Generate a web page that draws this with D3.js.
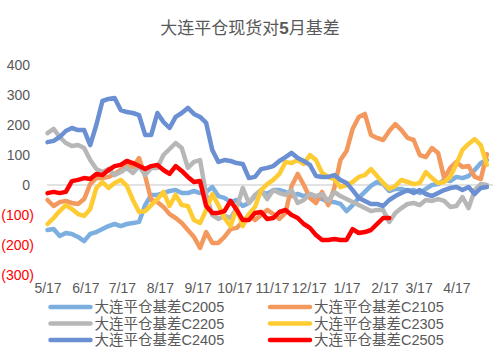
<!DOCTYPE html>
<html><head><meta charset="utf-8">
<script src="https://cdn.jsdelivr.net/npm/d3@7"></script>
<style>
html,body{margin:0;padding:0;background:#fff;}
svg{display:block;font-family:"Liberation Sans","Noto Sans CJK SC",sans-serif;}
</style></head>
<body>
<svg id="c" width="502" height="354"></svg>
<script>
const dates = ["2021-05-17","2021-05-22","2021-05-27","2021-06-01","2021-06-06","2021-06-11","2021-06-16","2021-06-21","2021-06-26","2021-07-01","2021-07-06","2021-07-11","2021-07-16","2021-07-21","2021-07-26","2021-07-31","2021-08-05","2021-08-10","2021-08-15","2021-08-20","2021-08-25","2021-08-30","2021-09-04","2021-09-09","2021-09-14","2021-09-19","2021-09-24","2021-09-29","2021-10-04","2021-10-09","2021-10-14","2021-10-19","2021-10-24","2021-10-29","2021-11-03","2021-11-08","2021-11-13","2021-11-18","2021-11-23","2021-11-28","2021-12-03","2021-12-08","2021-12-13","2021-12-18","2021-12-23","2021-12-28","2022-01-02","2022-01-07","2022-01-12","2022-01-17","2022-01-22","2022-01-27","2022-02-01","2022-02-06","2022-02-11","2022-02-16","2022-02-21","2022-02-26","2022-03-03","2022-03-08","2022-03-13","2022-03-18","2022-03-23","2022-03-28","2022-04-02","2022-04-07","2022-04-12","2022-04-17","2022-04-22","2022-04-27","2022-05-02","2022-05-07","2022-05-12"];

const c2005 = [-150,-147,-170,-160,-163,-173,-187,-163,-157,-147,-137,-130,-137,-130,-127,-123,-67,-33,-33,-27,-20,-17,-27,-27,-20,-27,-23,-7,-37,-43,-57,-50,-70,-60,-37,-23,-30,-17,-17,-23,-37,-30,-37,-30,-40,-47,-57,-57,-63,-87,-67,-43,-23,-3,10,3,-20,-13,-13,-20,-17,-27,-13,0,3,17,13,27,23,30,50,73,83];
const c2105 = [-50,-70,-57,-53,-60,-63,-47,3,23,23,27,37,50,67,60,90,30,-50,-57,-73,-97,-110,-127,-150,-173,-210,-157,-193,-193,-173,-147,-143,-123,-100,-117,-100,-83,-97,-113,-93,-3,37,0,-43,-60,-23,-67,-10,83,113,187,227,237,167,157,150,180,203,183,157,150,100,93,123,107,23,57,77,60,63,27,20,103];
const c2205 = [173,187,160,140,130,133,123,83,53,43,53,33,43,57,40,63,33,57,57,100,120,140,123,57,77,83,-33,-100,-113,-103,-110,-77,-10,-60,-33,-17,-47,-17,-27,-33,-17,-60,-50,-30,-37,-30,-53,-23,-37,-47,-57,-67,-77,-87,-83,-83,-123,-93,-77,-63,-60,-67,-50,-53,-47,-53,-73,-70,-40,-77,-17,3,0];
const c2305 = [-130,-110,-87,-67,-80,-97,-103,-80,-10,10,-10,7,17,-3,-50,-90,-87,-67,-47,-23,-70,-33,-67,-70,-117,-127,-83,-30,-67,-110,-137,-77,-137,-97,-73,-17,3,17,37,77,73,83,70,100,83,40,27,20,-7,0,10,27,33,53,30,7,-13,-3,17,10,3,7,43,23,7,10,27,70,117,137,153,133,67];
const c2405 = [143,147,160,180,190,183,183,133,200,280,287,290,250,243,240,233,167,167,240,210,190,227,240,257,237,227,207,117,77,83,80,73,70,23,27,53,57,63,80,93,107,90,80,67,30,27,27,33,17,7,-17,-43,-53,-63,-63,-70,-50,-37,-27,-17,-27,-17,-30,-37,-27,-17,-10,-7,-17,-7,-30,-10,-7];
const c2505 = [-27,-23,-27,-23,13,17,23,20,37,33,50,63,67,80,73,63,53,63,67,50,37,63,47,27,10,13,-70,-93,-93,-87,-53,-83,-117,-117,-93,-90,-113,-110,-90,-83,-100,-110,-130,-143,-167,-183,-183,-180,-183,-183,-147,-160,-157,-150,-130,-110,-110,null,null,null,null,null,null,null,null,null,null,null,null,null,null,null,null];

const seriesNames = ["大连平仓基差C2005","大连平仓基差C2105","大连平仓基差C2205","大连平仓基差C2305","大连平仓基差C2405","大连平仓基差C2505"];
const seriesValues = [c2005, c2105, c2205, c2305, c2405, c2505];
const colors = ["#7DAEE0","#F3995E","#B7B7B7","#FFCB33","#6A8FD3","#FF0000"];
const yTicks = [400,300,200,100,0,-100,-200,-300];
const xTicks = ["2021-05-17","2021-06-17","2021-07-17","2021-08-17","2021-09-17","2021-10-17","2021-11-17","2021-12-17","2022-01-17","2022-02-17","2022-03-17","2022-04-17"];

const parse = d3.utcParse("%Y-%m-%d");
const svg = d3.select("#c");

const x = d3.scaleUtc().domain([parse("2021-05-17"), parse("2022-05-17")]).range([47.5, 493]);
const y = d3.scaleLinear().domain([-300, 400]).range([275, 65]);

// title
const t = svg.append("text").attr("x", 250).attr("y", 34).attr("text-anchor", "middle")
  .attr("font-size", 17).attr("fill", "#595959");
t.append("tspan").text("大连平仓现货对");
t.append("tspan").attr("font-weight", "bold").text("5");
t.append("tspan").text("月基差");

// y axis
const yAxis = svg.append("g").attr("transform", "translate(34,0)")
  .call(d3.axisLeft(y).tickValues(yTicks).tickSize(0).tickPadding(0)
    .tickFormat(v => v < 0 ? "(" + d3.format(",")(-v) + ")" : d3.format(",")(v)));
yAxis.select(".domain").remove();
yAxis.selectAll("text").attr("font-size", 14).attr("font-family", "Liberation Sans, sans-serif")
  .attr("fill", d => d < 0 ? "#FF0000" : "#595959")
  .attr("dx", d => d < 0 ? 0 : -4);

// zero line
svg.append("line").attr("x1", 47).attr("x2", 493).attr("y1", y(0)).attr("y2", y(0))
  .attr("stroke", "#D9D9D9").attr("stroke-width", 1.5);

// x axis
const xAxis = svg.append("g").attr("transform", "translate(0,283)")
  .call(d3.axisBottom(x).tickValues(xTicks.map(parse)).tickSize(0).tickPadding(0)
    .tickFormat(d3.utcFormat("%-m/%-d")));
xAxis.select(".domain").remove();
xAxis.selectAll("text").attr("font-size", 14).attr("font-family", "Liberation Sans, sans-serif")
  .attr("fill", "#595959").attr("dy", "0.71em");

// lines
const line = d3.line().defined(d => d.v !== null).x(d => x(d.d)).y(d => y(d.v)).curve(d3.curveLinear);
seriesValues.forEach((vals, i) => {
  const data = vals.map((v, j) => ({d: parse(dates[j]), v: v}));
  svg.append("path").datum(data).attr("d", line).attr("fill", "none")
    .attr("stroke", colors[i]).attr("stroke-width", 4.5).attr("stroke-linejoin", "round").attr("stroke-linecap", "round");
});

// legend
const lg = svg.append("g");
const colX = [48.5, 268];
const rowY = [307, 323.5, 340];
seriesNames.forEach((n, i) => {
  const cx = colX[i % 2], cy = rowY[Math.floor(i / 2)];
  lg.append("line").attr("x1", cx + 2).attr("x2", cx + 42).attr("y1", cy).attr("y2", cy)
    .attr("stroke", colors[i]).attr("stroke-width", 4.5).attr("stroke-linecap", "round");
  lg.append("text").attr("x", cx + 46).attr("y", cy + 5).attr("font-size", 14.5)
    .attr("fill", "#595959").text(n);
});
</script>
</body></html>
